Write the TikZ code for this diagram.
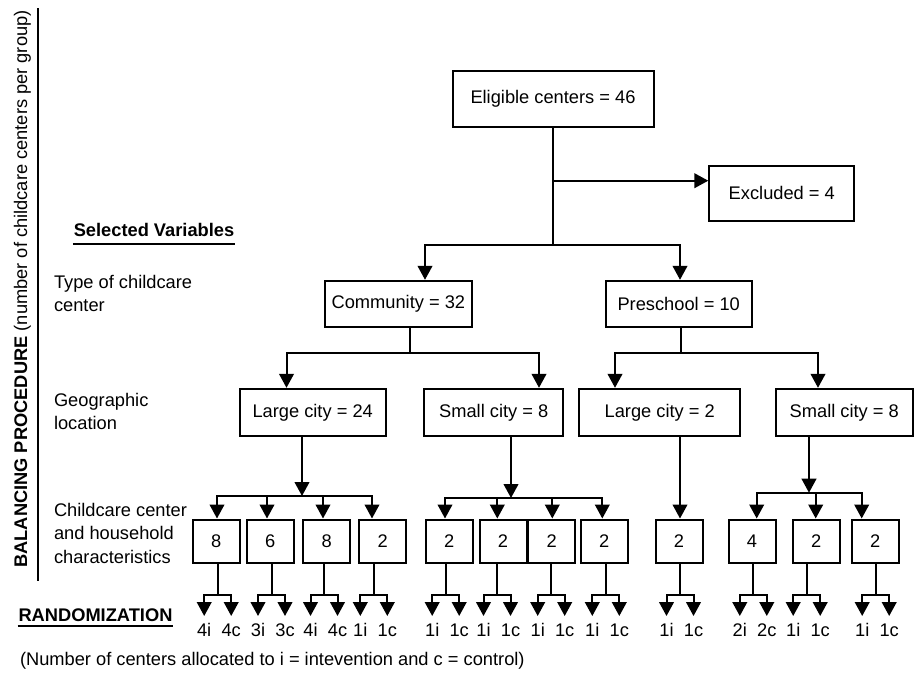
\documentclass[tikz,border=0pt]{standalone}
\usepackage{fontspec}
\setmainfont{Liberation Sans}
\usetikzlibrary{arrows.meta,positioning}
\tikzstyle{block} = [draw, rectangle, line width=1.5pt, inner sep=0pt]
\tikzstyle{cell} = [block, minimum width=35.25pt, minimum height=32.25pt]
\tikzstyle{leaf} = [inner sep=5pt, anchor=north]
\tikzstyle{var} = [align=left, anchor=west, inner sep=0pt]

\begin{document}
\begin{tikzpicture}[x=0.75pt, y=-0.75pt, >={Triangle[width=11pt,length=10.5pt]}, font=\fontsize{13.7}{17.3}\selectfont, line width=1.5pt]
\useasboundingbox (0,0) rectangle (914,672);

\node [rotate=90, anchor=base] (side) at (27,289) {\textbf{BALANCING PROCEDURE} (number of childcare centers per group)};
\node [coordinate] (ruletop) at (37.7,8) {};
\node [coordinate] (rulebot) at (37.7,581) {};
\draw (ruletop) -- (rulebot);

\node [inner sep=0pt] (selvar) at (154,230) {\textbf{Selected Variables}};
\draw ([yshift=-5pt]selvar.south west) -- ([yshift=-5pt]selvar.south east);
\node [var] (type) at (53,293.3) {Type of childcare\\center};
\node [var] (geo) at (53,411) {Geographic\\location};
\node [var] (chars) at (53,533.4) {Childcare center\\and household\\characteristics};
\node [inner sep=0pt] (rand) at (95.5,615) {\textbf{RANDOMIZATION}};
\draw ([yshift=-2.5pt]rand.south west) -- ([yshift=-2.5pt]rand.south east);
\node [inner sep=0pt, anchor=west] (note) at (19,661) {(Number of centers allocated to i = intevention and c = control)};

\node [block, minimum width=150.75pt, minimum height=42pt] (elig) at (553,99) {Eligible centers = 46};
\node [block, minimum width=108.75pt, minimum height=41.25pt] (excl) at (781.8,193.2) {Excluded = 4};
\node [block, minimum width=110.25pt, minimum height=34.5pt] (comm) at (398.4,303.8) {Community = 32};
\node [block, minimum width=109.5pt, minimum height=34.5pt] (pre) at (678.7,303.8) {Preschool = 10};
\node [block, minimum width=109.5pt, minimum height=35.25pt] (lc1) at (312.7,412.3) {Large city = 24};
\node [block, minimum width=103.9pt, minimum height=35.25pt] (sc1) at (493.7,412.3) {Small city = 8};
\node [block, minimum width=121.1pt, minimum height=35.25pt] (lc2) at (659.7,412.3) {Large city = 2};
\node [block, minimum width=102.5pt, minimum height=35.25pt] (sc2) at (844.3,412.3) {Small city = 8};

\node [coordinate] (j0) at (elig.south |- 0,245) {};
\node [coordinate] (jx) at (elig.south |- 0,180.7) {};
\draw (elig) -- (j0);
\draw [->] (jx) -- (excl.west |- jx);
\draw [->] (j0) -| (425,0 |- comm.north);
\draw [->] (j0) -| (680,0 |- pre.north);

\node [coordinate] (jcomm) at (410,352.7) {};
\node [coordinate] (jpre) at (681,352.7) {};
\draw (jcomm |- comm.south) -- (jcomm);
\draw [->] (jcomm) -| (286.5,0 |- lc1.north);
\draw [->] (jcomm) -| (539,0 |- sc1.north);
\draw (jpre |- pre.south) -- (jpre);
\draw [->] (jpre) -| (615,0 |- lc2.north);
\draw [->] (jpre) -| (818,0 |- sc2.north);

\node [coordinate] (ja) at (302,496) {};
\node [coordinate] (jb) at (511,498) {};
\node [coordinate] (jc) at (680,0 |- lc2.south) {};
\node [coordinate] (jd) at (809,492.7) {};
\draw [->] (ja |- lc1.south) -- (ja);
\draw [->] (jb |- sc1.south) -- (jb);
\draw [->] (jd |- sc2.south) -- (jd);

\foreach \n/\cx/\ax/\sx/\g/\v/\li/\lc in {
  a1/216.3/217/217.7/ja/8/4i/4c, a2/270.3/267/271.5/ja/6/3i/3c,
  a3/326.8/323/324/ja/8/4i/4c, a4/382.8/372/373.8/ja/2/1i/1c,
  b1/449.2/445/445.7/jb/2/1i/1c, b2/503/497.3/497/jb/2/1i/1c,
  b3/551.8/552.3/551.2/jb/2/1i/1c, b4/604.3/602.3/605.8/jb/2/1i/1c,
  c1/679/680/680/jc/2/1i/1c,
  d1/752/756.7/753.3/jd/4/2i/2c, d2/816.3/815.7/806.7/jd/2/1i/1c,
  d3/875.3/861.7/875.7/jd/2/1i/1c}
{
  \node [cell] (\n) at (\cx,541) {\v};
  \draw [->] (\g) -| (\ax,0 |- \n.north);
  \node [coordinate] (\n-j) at (\sx,595) {};
  \node [leaf] (\n-i) at (\sx-13.5,616) {\li};
  \node [leaf] (\n-c) at (\sx+13.5,616) {\lc};
  \draw (\n-j |- \n.south) -- (\n-j);
  \draw [->] (\n-j) -| (\n-i.north);
  \draw [->] (\n-j) -| (\n-c.north);
}

\end{tikzpicture}
\end{document}
